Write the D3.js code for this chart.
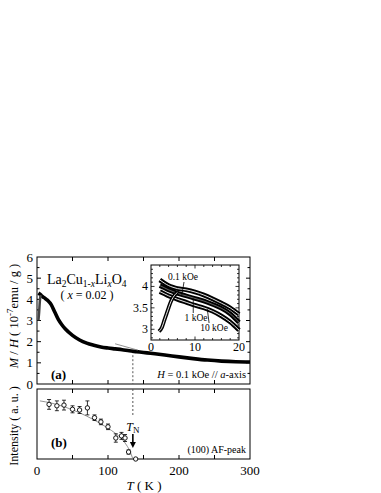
<!DOCTYPE html>
<html>
<head>
<meta charset="utf-8">
<script src="https://cdn.jsdelivr.net/npm/d3@7"></script>
<style>
  body { margin: 0; background: #fff; }
  text { font-family: "Liberation Serif", "DejaVu Serif", serif; fill: #000; }
</style>
</head>
<body>
<div id="chart"></div>
<script>
// ---- data ----
// main susceptibility curve (0.1 kOe), field cooled
var mainT = [2, 4, 6, 10, 15, 20, 25, 30, 35, 40, 50, 60, 70, 80, 90, 100, 110, 120, 130, 140, 150, 160, 180, 200, 220, 240, 260, 280, 300];
var mainMH = [4.3, 4.25, 4.18, 4.08, 3.95, 3.75, 3.4, 3.05, 2.8, 2.6, 2.3, 2.08, 1.93, 1.83, 1.75, 1.7, 1.66, 1.62, 1.57, 1.53, 1.49, 1.45, 1.37, 1.28, 1.2, 1.13, 1.08, 1.05, 1.04];
// zero field cooled branch at low T
var zfcT = [2, 3, 4, 5];
var zfcMH = [3.0, 3.4, 3.9, 4.2];
// tangent guide line
var tangentT = [110, 142];
var tangentMH = [1.9, 1.6];

// inset curves
var insetT = [2, 3, 4, 5, 6, 8, 10, 12, 14, 16, 18, 20];
var inset01 = [4.15, 4.08, 4.02, 3.98, 3.95, 3.92, 3.87, 3.8, 3.71, 3.61, 3.5, 3.35];
var inset1 = [4.02, 3.97, 3.92, 3.88, 3.84, 3.78, 3.72, 3.66, 3.58, 3.49, 3.36, 3.16];
var inset10 = [3.88, 3.83, 3.78, 3.74, 3.7, 3.63, 3.56, 3.5, 3.42, 3.31, 3.17, 2.98];
var insetZfcT = [1.8, 2.5, 3, 3.5, 4, 4.5, 5, 5.5, 6];
var insetZfc = [2.95, 3.05, 3.2, 3.35, 3.5, 3.64, 3.74, 3.81, 3.86];

// neutron (100) AF peak intensity
var peakT = [17, 28, 38, 50, 60, 71, 81, 90, 100, 111, 119, 124, 129, 139];
var peakI = [0.78, 0.76, 0.77, 0.71, 0.70, 0.73, 0.59, 0.53, 0.46, 0.30, 0.33, 0.30, 0.10, 0.0];
var peakErr = [0.07, 0.07, 0.07, 0.05, 0.05, 0.1, 0.04, 0.04, 0.04, 0.06, 0.05, 0.05, 0.03, 0];
// guide-to-eye curve
var fitT = [4, 20, 40, 60, 80, 100, 110, 120, 126, 131, 135];
var fitI = [0.83, 0.8, 0.74, 0.66, 0.56, 0.44, 0.37, 0.28, 0.2, 0.11, 0];

var TN = 135;
var xTicks = [0, 100, 200, 300];
var yTicks = [0, 1, 2, 3, 4, 5, 6];
var insetXTicks = [0, 10, 20];
var insetYTicks = [3, 3.5, 4];

// ---- layout ----
var width = 381, height = 493;
var svg = d3.select("#chart").append("svg")
    .attr("width", width)
    .attr("height", height);

var x = d3.scaleLinear().domain([0, 300]).range([37, 250]);
var yA = d3.scaleLinear().domain([0, 6]).range([384, 257]);
var yB = d3.scaleLinear().domain([0, 1]).range([459, 389]);

var xi = d3.scaleLinear().domain([0, 20]).range([151, 239]);
var yi = d3.scaleLinear().domain([2.75, 4.5]).range([340, 265]);

function zip(a, b) { return a.map(function(v, i) { return [v, b[i]]; }); }

// frames
svg.append("rect").attr("x", 37).attr("y", 257).attr("width", 213).attr("height", 127)
    .attr("fill", "none").attr("stroke", "#000").attr("stroke-width", 1);
svg.append("rect").attr("x", 37).attr("y", 389).attr("width", 213).attr("height", 70)
    .attr("fill", "none").attr("stroke", "#000").attr("stroke-width", 1);

// inward ticks, every 50 K
var xMinor = d3.range(0, 301, 50);
[[384, -1], [257, 1], [389, 1], [459, -1]].forEach(function(p) {
  svg.selectAll(null).data(xMinor.slice(1, -1)).enter().append("line")
      .attr("x1", function(d) { return x(d); }).attr("x2", function(d) { return x(d); })
      .attr("y1", p[0]).attr("y2", function() { return p[0] + p[1] * 4; })
      .attr("stroke", "#000").attr("stroke-width", 1);
});
// y ticks on main panel (left and right)
var yAll = d3.range(0.5, 6, 0.5);
[[37, 1], [250, -1]].forEach(function(p) {
  svg.selectAll(null).data(yAll).enter().append("line")
      .attr("x1", p[0]).attr("x2", function(d) { return p[0] + p[1] * (d % 1 === 0 ? 4 : 2.5); })
      .attr("y1", function(d) { return yA(d); }).attr("y2", function(d) { return yA(d); })
      .attr("stroke", "#000").attr("stroke-width", 1);
});

// tick labels
svg.selectAll(null).data(yTicks).enter().append("text")
    .attr("x", 33).attr("y", function(d) { return yA(d) + 4.5; })
    .attr("text-anchor", "end").attr("font-size", "13px").text(function(d) { return d; });
svg.selectAll(null).data(xTicks).enter().append("text")
    .attr("x", function(d) { return x(d); }).attr("y", 475)
    .attr("text-anchor", "middle").attr("font-size", "13px").text(function(d) { return d; });

// axis titles
var tK = svg.append("text").attr("x", 144).attr("y", 490).attr("text-anchor", "middle").attr("font-size", "13px");
tK.append("tspan").attr("font-style", "italic").text("T");
tK.append("tspan").text(" ( K )");

var yl = svg.append("text").attr("transform", "translate(18,316) rotate(-90)")
    .attr("text-anchor", "middle").attr("font-size", "12.5px");
yl.append("tspan").attr("font-style", "italic").text("M");
yl.append("tspan").text(" / ");
yl.append("tspan").attr("font-style", "italic").text("H");
yl.append("tspan").text(" ( 10");
yl.append("tspan").attr("font-size", "9px").attr("dy", -5).text("-7");
yl.append("tspan").attr("dy", 5).text("emu / g )");

svg.append("text").attr("transform", "translate(18,426) rotate(-90)")
    .attr("text-anchor", "middle").attr("font-size", "12px").text("Intensity ( a. u. )");

// dashed T_N line
svg.append("line").attr("x1", x(TN)).attr("x2", x(TN)).attr("y1", yA(1.55)).attr("y2", yA(0))
    .attr("stroke", "#555").attr("stroke-width", 1).attr("stroke-dasharray", "2,2");
svg.append("line").attr("x1", x(TN)).attr("x2", x(TN)).attr("y1", yB(1)).attr("y2", yB(0.6))
    .attr("stroke", "#555").attr("stroke-width", 1).attr("stroke-dasharray", "2,2");

// main curve
var lineA = d3.line().x(function(d) { return x(d[0]); }).y(function(d) { return yA(d[1]); }).curve(d3.curveMonotoneX);
svg.append("path").datum(zip(mainT, mainMH)).attr("d", lineA)
    .attr("fill", "none").attr("stroke", "#000").attr("stroke-width", 3.6);
svg.append("path").datum(zip(zfcT, zfcMH)).attr("d", lineA)
    .attr("fill", "none").attr("stroke", "#444").attr("stroke-width", 2.5);
svg.append("path").datum(zip(tangentT, tangentMH)).attr("d", d3.line().x(function(d) { return x(d[0]); }).y(function(d) { return yA(d[1]); }))
    .attr("fill", "none").attr("stroke", "#777").attr("stroke-width", 0.8);

// panel a texts
var formula = svg.append("text").attr("x", 47).attr("y", 284).attr("font-size", "14px");
formula.append("tspan").text("La");
formula.append("tspan").attr("font-size", "9.5px").attr("dy", 3).text("2");
formula.append("tspan").attr("dy", -3).text("Cu");
formula.append("tspan").attr("font-size", "9.5px").attr("dy", 3).text("1-");
formula.append("tspan").attr("font-size", "9.5px").attr("font-style", "italic").text("x");
formula.append("tspan").attr("dy", -3).text("Li");
formula.append("tspan").attr("font-size", "9.5px").attr("font-style", "italic").attr("dy", 3).text("x");
formula.append("tspan").attr("dy", -3).text("O");
formula.append("tspan").attr("font-size", "9.5px").attr("dy", 3).text("4");

var xc = svg.append("text").attr("x", 87).attr("y", 299).attr("text-anchor", "middle").attr("font-size", "12px");
xc.append("tspan").text("( ");
xc.append("tspan").attr("font-style", "italic").text("x");
xc.append("tspan").text(" = 0.02 )");

svg.append("text").attr("x", 51).attr("y", 379).attr("font-size", "13px").attr("font-weight", "bold").text("(a)");
var hf = svg.append("text").attr("x", 246).attr("y", 378).attr("text-anchor", "end").attr("font-size", "10.5px");
hf.append("tspan").attr("font-style", "italic").text("H");
hf.append("tspan").text(" = 0.1 kOe // ");
hf.append("tspan").attr("font-style", "italic").text("a");
hf.append("tspan").text("-axis");

// ---- inset ----
var inset = svg.append("g");
inset.append("rect").attr("x", 151).attr("y", 265).attr("width", 88).attr("height", 75)
    .attr("fill", "#fff").attr("stroke", "#000").attr("stroke-width", 1);
var yiMinor = d3.range(2.8, 4.5, 0.1);
[[151, 1], [239, -1]].forEach(function(p) {
  inset.selectAll(null).data(yiMinor).enter().append("line")
      .attr("x1", p[0]).attr("x2", function(d) { return p[0] + p[1] * (Math.abs(d * 2 - Math.round(d * 2)) < 0.01 ? 3.5 : 2); })
      .attr("y1", function(d) { return yi(d); }).attr("y2", function(d) { return yi(d); })
      .attr("stroke", "#000").attr("stroke-width", 0.8);
});
var xiMinor = d3.range(2, 20, 2);
[[340, -1], [265, 1]].forEach(function(p) {
  inset.selectAll(null).data(xiMinor).enter().append("line")
      .attr("x1", function(d) { return xi(d); }).attr("x2", function(d) { return xi(d); })
      .attr("y1", p[0]).attr("y2", function(d) { return p[0] + p[1] * (d % 10 === 0 ? 3.5 : 2); })
      .attr("stroke", "#000").attr("stroke-width", 0.8);
});
inset.selectAll(null).data(insetYTicks).enter().append("text")
    .attr("x", 148).attr("y", function(d) { return yi(d) + 4; })
    .attr("text-anchor", "end").attr("font-size", "12px").text(function(d) { return d; });
inset.selectAll(null).data(insetXTicks).enter().append("text")
    .attr("x", function(d) { return xi(d); }).attr("y", 351)
    .attr("text-anchor", "middle").attr("font-size", "12px").text(function(d) { return d; });

var lineI = d3.line().x(function(d) { return xi(d[0]); }).y(function(d) { return yi(d[1]); }).curve(d3.curveMonotoneX);
[[inset01, 0.9], [inset1, 0.4], [inset10, 0.9]].forEach(function(s) {
  inset.append("path").datum(zip(insetT, s[0])).attr("d", lineI)
      .attr("fill", "none").attr("stroke", "#000").attr("stroke-width", 4.6);
  inset.append("path").datum(zip(insetT, s[0])).attr("d", lineI)
      .attr("fill", "none").attr("stroke", "#fff").attr("stroke-width", s[1]);
});
inset.append("path").datum(zip(insetZfcT, insetZfc)).attr("d", lineI)
    .attr("fill", "none").attr("stroke", "#000").attr("stroke-width", 3.8);
inset.append("path").datum(zip(insetZfcT, insetZfc)).attr("d", lineI)
    .attr("fill", "none").attr("stroke", "#fff").attr("stroke-width", 0.9);

// inset labels with leader lines
inset.append("text").attr("x", 183).attr("y", 280).attr("text-anchor", "middle").attr("font-size", "9.5px").text("0.1 kOe");
inset.append("line").attr("x1", xi(7.5)).attr("x2", xi(7)).attr("y1", 282).attr("y2", yi(3.8))
    .attr("stroke", "#000").attr("stroke-width", 0.8);
inset.append("text").attr("x", 196).attr("y", 321).attr("text-anchor", "middle").attr("font-size", "9.5px").text("1 kOe");
inset.append("line").attr("x1", xi(9.6)).attr("x2", xi(9.6)).attr("y1", 313).attr("y2", yi(3.72))
    .attr("stroke", "#000").attr("stroke-width", 0.8);
inset.append("text").attr("x", 214).attr("y", 331).attr("text-anchor", "middle").attr("font-size", "9.5px").text("10 kOe");
inset.append("line").attr("x1", xi(13.2)).attr("x2", xi(12.8)).attr("y1", 323).attr("y2", yi(3.47))
    .attr("stroke", "#000").attr("stroke-width", 0.8);

// ---- panel b ----
var lineB = d3.line().x(function(d) { return x(d[0]); }).y(function(d) { return yB(d[1]); }).curve(d3.curveMonotoneX);
svg.append("path").datum(zip(fitT, fitI)).attr("d", lineB)
    .attr("fill", "none").attr("stroke", "#777").attr("stroke-width", 0.8);

var pts = peakT.map(function(t, i) { return { t: t, v: peakI[i], e: peakErr[i] }; });
var eb = svg.selectAll(null).data(pts.filter(function(d) { return d.e > 0; })).enter().append("g");
eb.append("line")
    .attr("x1", function(d) { return x(d.t); }).attr("x2", function(d) { return x(d.t); })
    .attr("y1", function(d) { return yB(d.v - d.e); }).attr("y2", function(d) { return yB(d.v + d.e); })
    .attr("stroke", "#000").attr("stroke-width", 0.8);
[-1, 1].forEach(function(s) {
  eb.append("line")
      .attr("x1", function(d) { return x(d.t) - 2; }).attr("x2", function(d) { return x(d.t) + 2; })
      .attr("y1", function(d) { return yB(d.v + s * d.e); }).attr("y2", function(d) { return yB(d.v + s * d.e); })
      .attr("stroke", "#000").attr("stroke-width", 0.8);
});
svg.selectAll(null).data(pts).enter().append("circle")
    .attr("cx", function(d) { return x(d.t); }).attr("cy", function(d) { return yB(d.v); })
    .attr("r", 2.2).attr("fill", "#fff").attr("stroke", "#000").attr("stroke-width", 0.9);

svg.append("text").attr("x", 51).attr("y", 447).attr("font-size", "13px").attr("font-weight", "bold").text("(b)");
svg.append("text").attr("x", 246).attr("y", 453).attr("text-anchor", "end").attr("font-size", "10px").text("(100) AF-peak");

var tn = svg.append("text").attr("x", x(TN)).attr("y", 431).attr("text-anchor", "middle").attr("font-size", "12px");
tn.append("tspan").attr("font-style", "italic").text("T");
tn.append("tspan").attr("font-size", "9px").attr("dy", 2).text("N");
svg.append("line").attr("x1", x(TN)).attr("x2", x(TN)).attr("y1", 434).attr("y2", 443)
    .attr("stroke", "#000").attr("stroke-width", 1.6);
svg.append("path")
    .attr("d", "M" + (x(TN) - 3) + ",442 L" + (x(TN) + 3) + ",442 L" + x(TN) + ",448 Z")
    .attr("fill", "#000");
</script>
</body>
</html>
